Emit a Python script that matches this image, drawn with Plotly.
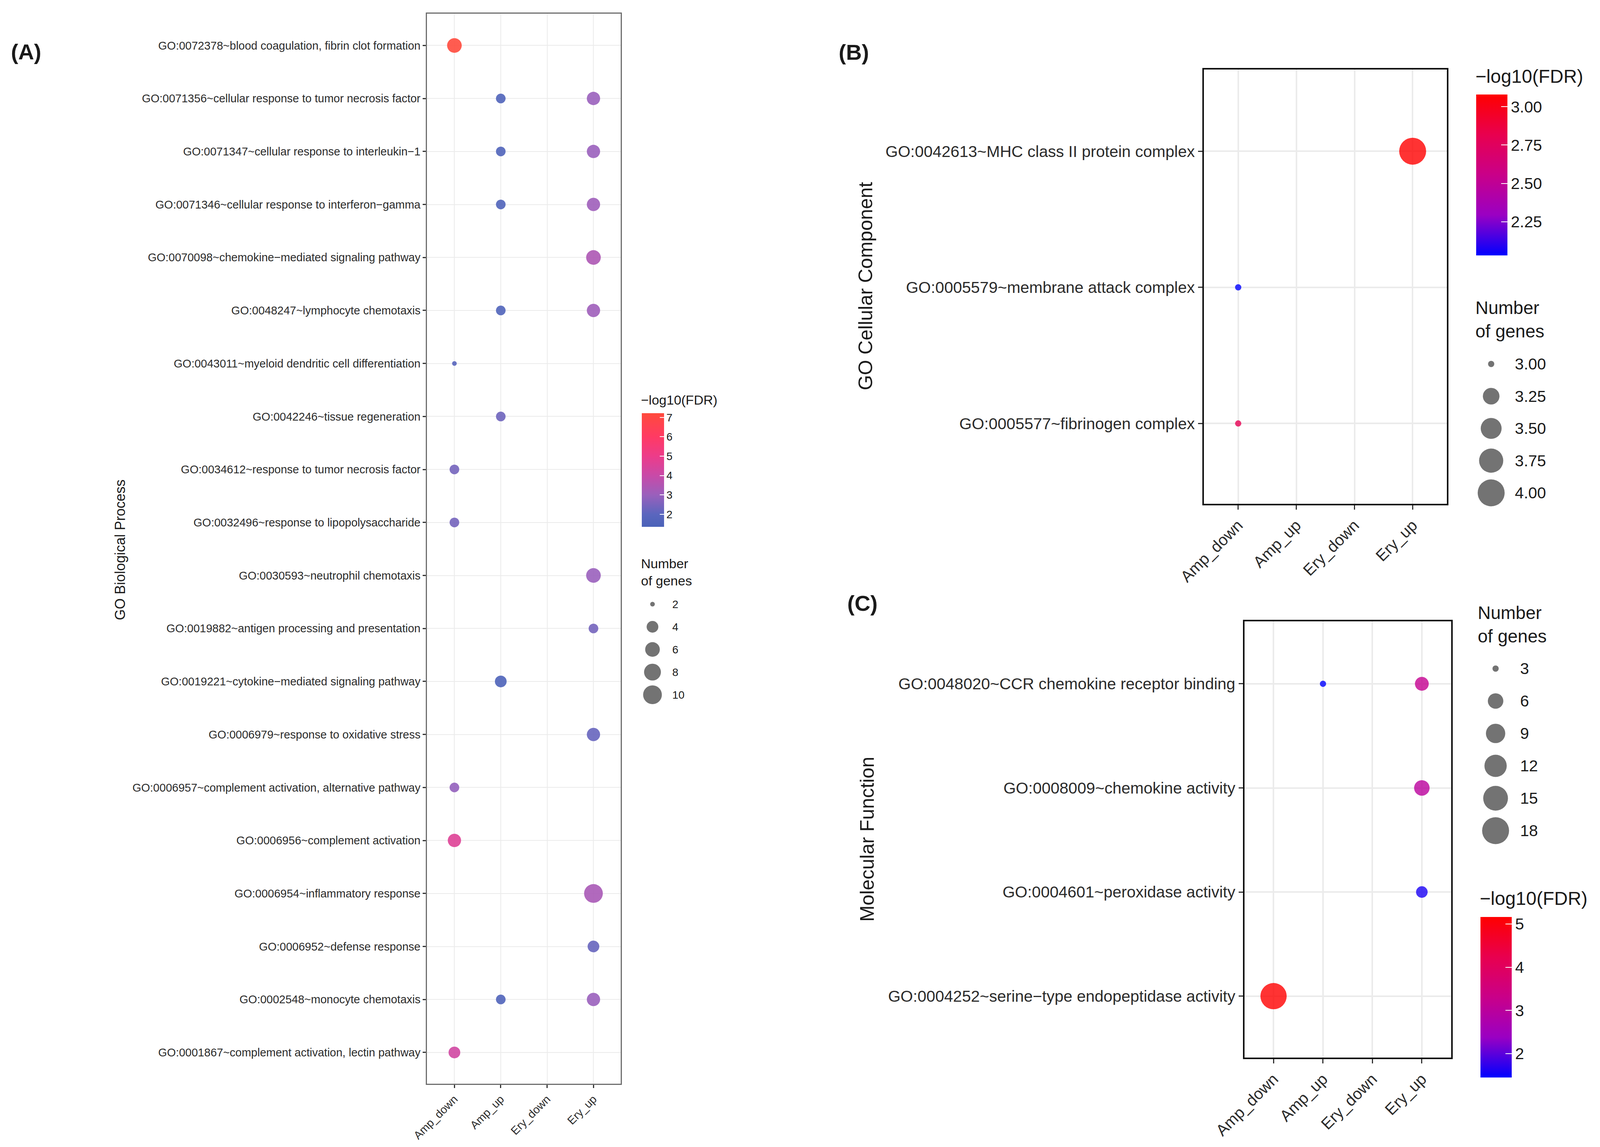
import numpy as np
import plotly.graph_objects as go

# layout was measured on a 4327 x 2937 canvas; x positions are kept as fractions of it
W, H = 4327, 2937
FONT = "Liberation Sans, Arial, Helvetica, sans-serif"
INK = "#1a1a1a"
TICK = "#2b2b2b"

groups = ["Amp_down", "Amp_up", "Ery_down", "Ery_up"]

# (A) GO Biological Process
bp_terms = [
    "GO:0072378~blood coagulation, fibrin clot formation",
    "GO:0071356~cellular response to tumor necrosis factor",
    "GO:0071347~cellular response to interleukin\u22121",
    "GO:0071346~cellular response to interferon\u2212gamma",
    "GO:0070098~chemokine\u2212mediated signaling pathway",
    "GO:0048247~lymphocyte chemotaxis",
    "GO:0043011~myeloid dendritic cell differentiation",
    "GO:0042246~tissue regeneration",
    "GO:0034612~response to tumor necrosis factor",
    "GO:0032496~response to lipopolysaccharide",
    "GO:0030593~neutrophil chemotaxis",
    "GO:0019882~antigen processing and presentation",
    "GO:0019221~cytokine\u2212mediated signaling pathway",
    "GO:0006979~response to oxidative stress",
    "GO:0006957~complement activation, alternative pathway",
    "GO:0006956~complement activation",
    "GO:0006954~inflammatory response",
    "GO:0006952~defense response",
    "GO:0002548~monocyte chemotaxis",
    "GO:0001867~complement activation, lectin pathway",
]
bp_row = [0, 1, 1, 2, 2, 3, 3, 4, 5, 5, 6, 7, 8, 9, 10, 11, 12, 13, 14, 15, 16, 17, 18, 18, 19]
bp_group = ["Amp_down", "Amp_up", "Ery_up", "Amp_up", "Ery_up", "Amp_up", "Ery_up", "Ery_up",
            "Amp_up", "Ery_up", "Amp_down", "Amp_up", "Amp_down", "Amp_down", "Ery_up", "Ery_up",
            "Amp_up", "Ery_up", "Amp_down", "Amp_down", "Ery_up", "Ery_up", "Amp_up", "Ery_up",
            "Amp_down"]
bp_genes = [6, 3, 5, 3, 5, 3, 5, 6, 3, 5, 2, 3, 3, 3, 6, 3, 4, 5, 3, 5, 10, 4, 3, 5, 4]
bp_fdr = [7.2, 1.6, 3.0, 1.6, 3.0, 1.6, 3.1, 3.4, 1.6, 3.1, 1.9, 2.3, 2.4, 2.4, 3.0, 2.4,
          1.5, 2.2, 2.9, 4.6, 3.3, 2.2, 1.6, 3.0, 4.2]

# (B) GO Cellular Component
cc_terms = [
    "GO:0042613~MHC class II protein complex",
    "GO:0005579~membrane attack complex",
    "GO:0005577~fibrinogen complex",
]
cc_row = [0, 1, 2]
cc_group = ["Ery_up", "Amp_down", "Amp_down"]
cc_genes = [4, 3, 3]
cc_fdr = [3.08, 2.03, 2.80]

# (C) Molecular Function
mf_terms = [
    "GO:0048020~CCR chemokine receptor binding",
    "GO:0008009~chemokine activity",
    "GO:0004601~peroxidase activity",
    "GO:0004252~serine\u2212type endopeptidase activity",
]
mf_row = [0, 0, 1, 2, 3]
mf_group = ["Amp_up", "Ery_up", "Ery_up", "Ery_up", "Amp_down"]
mf_genes = [3, 5, 6, 4, 17]
mf_fdr = [1.45, 3.2, 3.0, 1.6, 5.16]

# legend breaks
bp_size_breaks = [2, 4, 6, 8, 10]
cc_size_breaks = [3.00, 3.25, 3.50, 3.75, 4.00]
mf_size_breaks = [3, 6, 9, 12, 15, 18]
bp_fdr_ticks = [2, 3, 4, 5, 6, 7]
cc_fdr_ticks = [2.25, 2.50, 2.75, 3.00]
mf_fdr_ticks = [2, 3, 4, 5]


def dot_size(n, lo, hi, dmin, dmax):
    # ggplot-like area scale: diameter grows with sqrt of the rescaled value
    n = np.asarray(n, dtype=float)
    return dmin + (dmax - dmin) * np.sqrt((n - lo) / (hi - lo))


def px(x):
    return x / W


def py(y):
    return 1 - y / H


scale_bp = [[0.0, "#4a62b8"], [0.11, "#5a66be"], [0.28, "#9a60bc"], [0.45, "#c84aa8"],
            [0.62, "#ec3c8a"], [0.79, "#ff3a64"], [1.0, "#ff4a3c"]]
scale_br = [[0.0, "#0000ff"], [0.25, "#9a00c3"], [0.5, "#c90089"], [0.75, "#e8004f"], [1.0, "#ff0000"]]

panels = [
    dict(terms=bp_terms, row=bp_row, grp=bp_group, genes=bp_genes, fdr=bp_fdr,
         size=(2, 10, 12, 48), xp=(1151, 1677), yp=(27, 2767), ax="", ca="coloraxis",
         tfs=29, xfs=29, line="#6e6e6e", lw=3, gw=2, tl=8, op=0.9),
    dict(terms=cc_terms, row=cc_row, grp=cc_group, genes=cc_genes, fdr=cc_fdr,
         size=(3, 4, 16, 69), xp=(3260, 3920), yp=(170, 1282), ax="2", ca="coloraxis2",
         tfs=41, xfs=41, line="#111111", lw=4, gw=4, tl=11, op=0.8),
    dict(terms=mf_terms, row=mf_row, grp=mf_group, genes=mf_genes, fdr=mf_fdr,
         size=(3, 18, 16, 69), xp=(3370, 3931), yp=(1583, 2700), ax="3", ca="coloraxis3",
         tfs=41, xfs=41, line="#111111", lw=4, gw=4, tl=11, op=0.8),
]

fig = go.Figure()
layout = {}

for p in panels:
    lo, hi, dmin, dmax = p["size"]
    fig.add_trace(go.Scatter(
        x=p["grp"], y=[p["terms"][r] for r in p["row"]], mode="markers",
        marker=dict(size=dot_size(p["genes"], lo, hi, dmin, dmax), color=p["fdr"],
                    coloraxis=p["ca"], opacity=p["op"], line=dict(width=0)),
        xaxis="x" + p["ax"], yaxis="y" + p["ax"], hoverinfo="skip"))
    n = len(p["terms"])
    common = dict(showgrid=True, gridcolor="#ebebeb", gridwidth=p["gw"], zeroline=False,
                  showline=True, mirror=True, linecolor=p["line"], linewidth=p["lw"],
                  ticks="outside", ticklen=p["tl"], tickwidth=3, tickcolor="#333333",
                  type="category", categoryorder="array", automargin=False)
    layout["xaxis" + p["ax"]] = dict(
        common, domain=[px(p["xp"][0]), px(p["xp"][1])], anchor="y" + p["ax"],
        categoryarray=groups, range=[-0.59, 3.59], tickangle=-45,
        tickfont=dict(family=FONT, size=p["xfs"], color=TICK))
    layout["yaxis" + p["ax"]] = dict(
        common, domain=[py(p["yp"][1]), py(p["yp"][0])], anchor="x" + p["ax"],
        categoryarray=p["terms"], range=[n - 1 + 0.59, -0.6],
        tickfont=dict(family=FONT, size=p["tfs"], color=TICK))

# size legends drawn as small axes
size_legends = [
    dict(breaks=bp_size_breaks, labels=["2", "4", "6", "8", "10"], size=(2, 10, 12, 48),
         cx=1763, rows=(1539, 1771), fs=28, stand=12, ax="4"),
    dict(breaks=cc_size_breaks, labels=["3.00", "3.25", "3.50", "3.75", "4.00"],
         size=(3, 4, 16, 69), cx=4040, rows=(924, 1254), fs=41, stand=22, ax="5"),
    dict(breaks=mf_size_breaks, labels=["3", "6", "9", "12", "15", "18"],
         size=(3, 18, 16, 69), cx=4052, rows=(1704, 2119), fs=41, stand=24, ax="6"),
]
for s in size_legends:
    lo, hi, dmin, dmax = s["size"]
    k = len(s["breaks"])
    step = (s["rows"][1] - s["rows"][0]) / (k - 1)
    idx = list(range(k))
    fig.add_trace(go.Scatter(
        x=[0] * k, y=idx, mode="markers",
        marker=dict(size=dot_size(s["breaks"], lo, hi, dmin, dmax), color="#383838",
                    line=dict(width=0)),
        xaxis="x" + s["ax"], yaxis="y" + s["ax"], hoverinfo="skip"))
    layout["xaxis" + s["ax"]] = dict(
        domain=[px(s["cx"] - 40), px(s["cx"] + 40)], anchor="y" + s["ax"], range=[-1, 1],
        visible=False, fixedrange=True)
    layout["yaxis" + s["ax"]] = dict(
        domain=[py(s["rows"][1] + step / 2), py(s["rows"][0] - step / 2)],
        anchor="x" + s["ax"], range=[k - 0.5, -0.5], side="right", showgrid=False,
        zeroline=False, showline=False, ticks="", tickvals=idx, ticktext=s["labels"],
        automargin=False, ticklabelstandoff=s["stand"],
        tickfont=dict(family=FONT, size=s["fs"], color=INK))


def cbar(cmin, cmax, scale, tickvals, ticktext, x0, y0, y1, thick, fs):
    return dict(
        cmin=cmin, cmax=cmax, colorscale=scale,
        colorbar=dict(x=px(x0), xanchor="left", y=py((y0 + y1) / 2), yanchor="middle",
                      len=y1 - y0, lenmode="pixels", thickness=thick, thicknessmode="pixels",
                      xpad=0, ypad=0, outlinewidth=0, ticks="inside", ticklen=thick // 5,
                      tickwidth=2, tickcolor="white", tickvals=tickvals, ticktext=ticktext,
                      tickfont=dict(family=FONT, size=fs, color=INK)))


layout["coloraxis"] = cbar(1.35, 7.22, scale_bp, bp_fdr_ticks, [str(v) for v in bp_fdr_ticks],
                           1734, 1050, 1341, 57, 28)
layout["coloraxis2"] = cbar(2.03, 3.08, scale_br, cc_fdr_ticks, ["%.2f" % v for v in cc_fdr_ticks],
                            3999, 234, 646, 80, 41)
layout["coloraxis3"] = cbar(1.45, 5.16, scale_br, mf_fdr_ticks, [str(v) for v in mf_fdr_ticks],
                            4011, 2340, 2751, 80, 41)

ann = []


def note(text, x, y, size, xanchor="left", yanchor="middle", angle=0, bold=False):
    ann.append(dict(text="<b>%s</b>" % text if bold else text, x=px(x), y=py(y),
                    xref="paper", yref="paper", xanchor=xanchor, yanchor=yanchor,
                    textangle=angle, showarrow=False, align="left",
                    font=dict(family=FONT, size=size, color=INK)))


note("(A)", 63, 124, 56, xanchor="center", bold=True)
note("(B)", 2310, 125, 56, xanchor="center", bold=True)
note("(C)", 2333, 1536, 56, xanchor="center", bold=True)
note("GO Biological Process", 317, 1400, 36, xanchor="center", angle=-90)
note("GO Cellular Component", 2342, 724, 50, xanchor="center", angle=-90)
note("Molecular Function", 2346, 2141, 50, xanchor="center", angle=-90)
note("\u2212log10(FDR)", 1730, 1016, 34)
note("Number<br>of genes", 1730, 1414, 34, yanchor="top")
note("\u2212log10(FDR)", 3995, 187, 48)
note("Number<br>of genes", 3995, 752, 46, yanchor="top")
note("Number<br>of genes", 4001, 1533, 46, yanchor="top")
note("\u2212log10(FDR)", 4007, 2292, 48)

# width follows the page so the whole figure stays inside the visible window
fig.update_layout(
    autosize=True, height=H, margin=dict(l=0, r=0, t=0, b=0, autoexpand=False),
    paper_bgcolor="white", plot_bgcolor="white", showlegend=False,
    annotations=ann, **layout)

fig.write_html("out.html")
